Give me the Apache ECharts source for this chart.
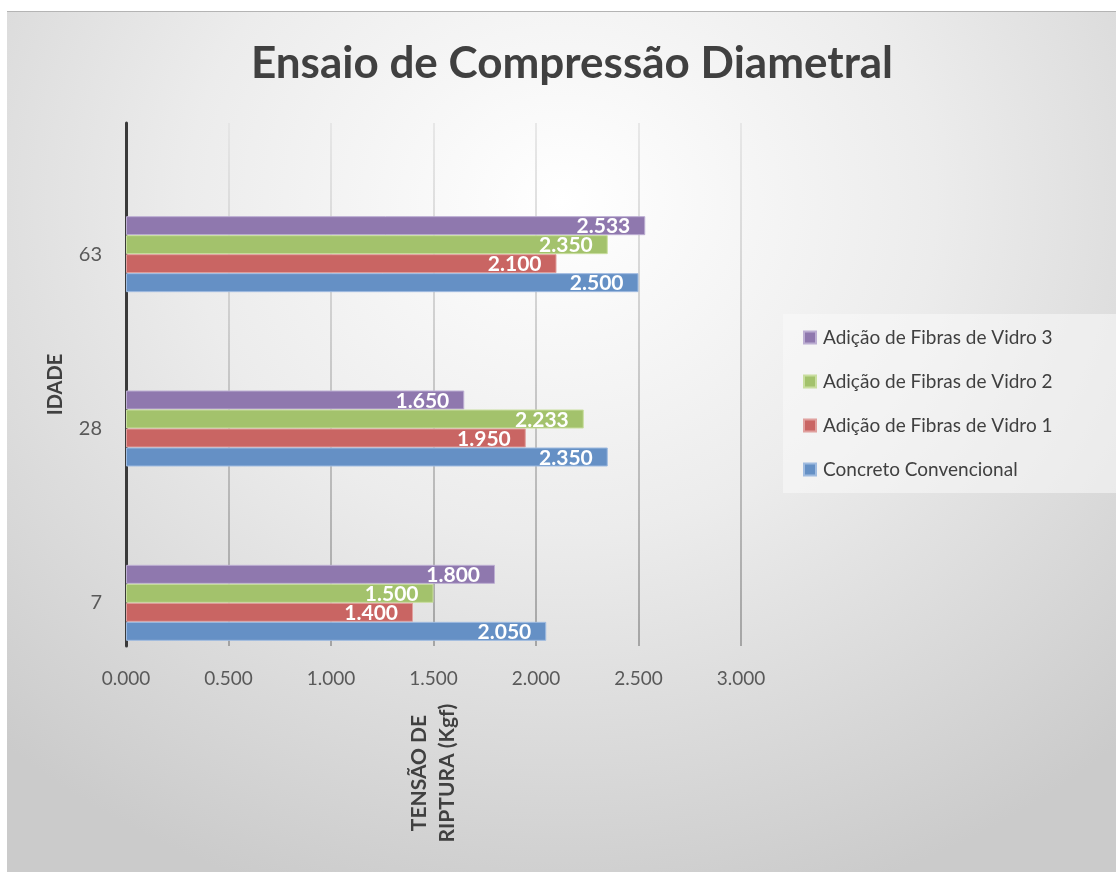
<!DOCTYPE html>
<html>
<head>
<meta charset="utf-8" />
<title>Ensaio de Compressão Diametral</title>
<script src="https://cdn.jsdelivr.net/npm/echarts@6/dist/echarts.min.js"></script>
<style type="text/css">
	body { margin: 0; background: #fff; }
	#bg {
		position: absolute; left: 7px; top: 11px; width: 1109px; height: 861px;
		border-top: 1px solid #b4b4b4;
		background: radial-gradient(ellipse 75% 85% at 50% 22%, #ffffff 0%, #ececec 45%, #cbcbcb 100%);
	}
	#chart { position: absolute; left: 0; top: 0; width: 1116px; height: 872px; }
</style>
</head>
<body>
<div id="bg"></div>
<div id="chart"></div>
<script type="text/javascript">
	// idades (de baixo para cima)
	var idades = ['7', '28', '63'];
	var concreto = [2.050, 2.350, 2.500];
	var vidro1 = [1.400, 1.950, 2.100];
	var vidro2 = [1.500, 2.233, 2.350];
	var vidro3 = [1.800, 1.650, 2.533];
	var nomes = ['Concreto Convencional', 'Adição de Fibras de Vidro 1', 'Adição de Fibras de Vidro 2', 'Adição de Fibras de Vidro 3'];
	var cores = ['#6590c5', '#c96563', '#a3c26c', '#8f78ae'];
	var bordas = ['#9fbbe0', '#e0a09e', '#c9de9f', '#bcaed2'];
	var ticks = [0, 0.5, 1, 1.5, 2, 2.5, 3];

	var fonte = 'Lato';
	var chart = echarts.init(document.getElementById('chart'));

	function serie(i, valores) {
		return {
			name: nomes[i],
			type: 'bar',
			xAxisIndex: 0,
			yAxisIndex: 0,
			data: valores,
			barWidth: 19,
			barGap: '0%',
			itemStyle: { color: cores[i], borderColor: bordas[i], borderWidth: 1 },
			label: {
				show: true,
				position: 'insideRight',
				distance: 15,
				offset: [0, 1],
				color: '#fff',
				fontFamily: fonte,
				fontWeight: 'bold',
				fontSize: 21,
				formatter: function (p) { return p.value.toFixed(3); }
			}
		};
	}

	var linhaGrade = {
		type: 'linear', global: true, x: 0, y: 123, x2: 0, y2: 646,
		colorStops: [{ offset: 0, color: '#e2e2e2' }, { offset: 1, color: '#909090' }]
	};

	var option = {
		animation: false,
		title: {
			text: 'Ensaio de Compressão Diametral',
			left: 567,
			top: 37,
			textAlign: 'center',
			textStyle: { fontFamily: fonte, fontWeight: 'bold', fontSize: 44, color: '#404040' }
		},
		legend: {
			orient: 'vertical',
			left: 783,
			top: 314,
			padding: [14, 64, 14, 20],
			backgroundColor: 'rgba(250,250,250,0.55)',
			itemWidth: 12,
			itemHeight: 12,
			itemGap: 25,
			icon: 'rect',
			data: nomes.slice().reverse(),
			textStyle: { fontFamily: fonte, fontSize: 19, color: '#404040', padding: [0, 0, 0, 2] }
		},
		grid: [
			{ left: 126, right: 375, top: 167, bottom: 182 },
			{ left: 126, right: 375, top: 123, bottom: 226 }
		],
		xAxis: [
			{ gridIndex: 0, type: 'value', min: 0, max: 3, interval: 0.5, show: false },
			{
				gridIndex: 1, type: 'value', min: ticks[0], max: ticks[ticks.length - 1], interval: 0.5,
				axisLine: { show: false },
				axisTick: { show: false },
				splitLine: { show: true, lineStyle: { color: linhaGrade, width: 1.5 } },
				axisLabel: {
					margin: 23, color: '#595959', fontFamily: fonte, fontSize: 19,
					formatter: function (v) { return v.toFixed(3); }
				},
				name: 'TENSÃO DE\nRIPTURA (Kgf)',
				nameLocation: 'middle',
				nameRotate: 90,
				nameGap: 127,
				nameTextStyle: {
					fontFamily: fonte, fontWeight: 'bold', fontSize: 21, color: '#404040',
					align: 'center', verticalAlign: 'middle', lineHeight: 28
				}
			}
		],
		yAxis: [
			{
				gridIndex: 0, type: 'category', data: idades,
				axisLine: { show: false },
				axisTick: { show: false },
				splitLine: { show: false },
				axisLabel: { margin: 24, color: '#595959', fontFamily: fonte, fontSize: 20 }
			},
			{
				gridIndex: 1, type: 'category', data: idades,
				axisLine: { show: true, lineStyle: { color: '#3a3a3a', width: 3 } },
				axisTick: { show: false },
				axisLabel: { show: false },
				splitLine: { show: false },
				name: 'IDADE',
				nameLocation: 'middle',
				nameRotate: 90,
				nameGap: 70,
				nameTextStyle: {
					fontFamily: fonte, fontWeight: 'bold', fontSize: 20, color: '#404040',
					align: 'center', verticalAlign: 'middle'
				}
			}
		],
		// a primeira série fica no topo de cada grupo
		series: [
			serie(3, vidro3),
			serie(2, vidro2),
			serie(1, vidro1),
			serie(0, concreto)
		]
	};
	chart.setOption(option);
</script>
</body>
</html>
